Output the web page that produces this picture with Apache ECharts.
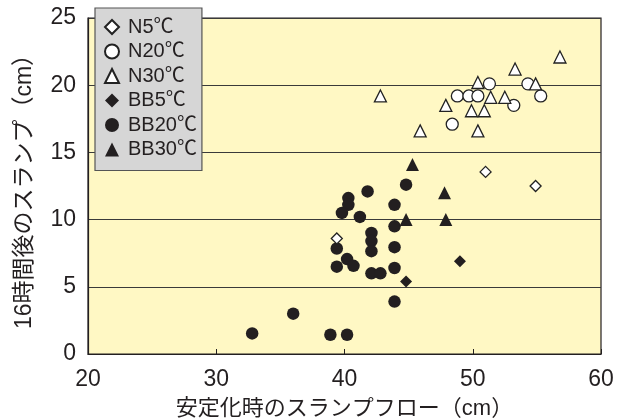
<!DOCTYPE html>
<html><head><meta charset="utf-8">
<script src="https://cdn.jsdelivr.net/npm/echarts@6/dist/echarts.min.js"></script>
<style>html,body{margin:0;padding:0;background:#fff}#c{width:633px;height:419px}</style>
</head><body><div id="c"></div>
<script>
const seriesNames = ['N5℃','N20℃','N30℃','BB5℃','BB20℃','BB30℃'];
const N5 = [[39.4,8.6],[51.0,13.55],[54.9,12.5]];
const N20 = [[51.3,20.1],[54.3,20.1],[48.8,19.2],[49.7,19.2],[50.4,19.2],[55.3,19.2],[53.2,18.5],[48.4,17.1]];
const N30 = [[56.8,22.1],[53.3,21.2],[50.4,20.2],[54.9,20.1],[51.4,19.1],[52.5,19.1],[47.9,18.5],[49.9,18.1],[50.9,18.1],[50.4,16.6],[45.9,16.6],[42.8,19.2]];
const BB5 = [[49.0,6.9],[44.8,5.4]];
const BB20 = [[44.8,12.6],[41.8,12.1],[40.3,11.6],[40.3,11.1],[39.8,10.5],[41.2,10.2],[43.9,11.1],[43.9,9.5],[42.1,9.0],[42.1,8.4],[42.1,7.65],[43.9,7.95],[39.4,7.85],[40.2,7.06],[40.7,6.56],[39.4,6.5],[43.9,6.4],[42.1,6.0],[42.8,6.0],[43.9,3.9],[38.9,1.43],[40.2,1.43],[32.8,1.53],[36.0,3.0]];
const BB30 = [[47.8,12.0],[44.8,10.0],[47.9,10.0],[45.3,14.1]];
const xTicks = [20,30,40,50,60];
const yTicks = [0,5,10,15,20,25];

const FONT = '"Liberation Sans", Arial, "Noto Sans CJK JP", sans-serif';
const white = {color:'#ffffff', borderColor:'#222', borderWidth:1.3, opacity:1};
const black = {color:'#231f20', borderColor:'#231f20', borderWidth:0, opacity:1};
function s(name, data, symbol, size, style){
  return {name, type:'scatter', data, symbol, symbolSize:size, itemStyle:style, z: style===white?3:2};
}
const chart = echarts.init(document.getElementById('c'), null, {renderer:'canvas'});
chart.setOption({
  animation:false,
  backgroundColor:'#ffffff',
  grid:{left:88,right:32,top:18,bottom:65,containLabel:false,outerBoundsMode:'none',show:true,backgroundColor:'#fff8c4',borderColor:'#231f20',borderWidth:1.2},
  legend:{
    orient:'vertical', left:95, top:8, data:seriesNames,
    backgroundColor:'#d6d6d6', borderColor:'#555', borderWidth:1.2,
    padding:[9,5,11,9], itemWidth:14, itemHeight:14, itemGap:4.5,
    textStyle:{fontFamily:FONT, fontSize:20, color:'#231f20', lineHeight:19, padding:[0,0,0,4]}
  },
  xAxis:{
    type:'value', min:20, max:60, interval:10,
    name:'安定化時のスランプフロー（cm）', nameLocation:'middle', nameGap:44,
    nameTextStyle:{fontFamily:FONT, fontSize:22, color:'#231f20'},
    axisLine:{lineStyle:{color:'#231f20',width:1.2}},
    axisTick:{inside:true,length:5,lineStyle:{color:'#231f20'}},
    axisLabel:{fontFamily:FONT,fontSize:23,color:'#231f20',margin:14},
    splitLine:{show:false}
  },
  yAxis:{
    type:'value', min:0, max:25, interval:5,
    name:'16時間後のスランプ（cm）', nameLocation:'middle', nameGap:52,
    nameTextStyle:{fontFamily:FONT, fontSize:23, color:'#231f20'},
    axisLine:{lineStyle:{color:'#231f20',width:1.2}},
    axisTick:{show:false},
    axisLabel:{fontFamily:FONT,fontSize:23,color:'#231f20',margin:12},
    splitLine:{show:true,lineStyle:{color:'#3a3a3a',width:1.2}}
  },
  series:[
    s('N5℃', N5, 'diamond', 11, white),
    s('N20℃', N20, 'circle', 12, white),
    s('N30℃', N30, 'triangle', 12, white),
    s('BB5℃', BB5, 'diamond', 12, black),
    s('BB20℃', BB20, 'circle', 12.5, black),
    s('BB30℃', BB30, 'triangle', 13, black)
  ]
});
</script></body></html>
